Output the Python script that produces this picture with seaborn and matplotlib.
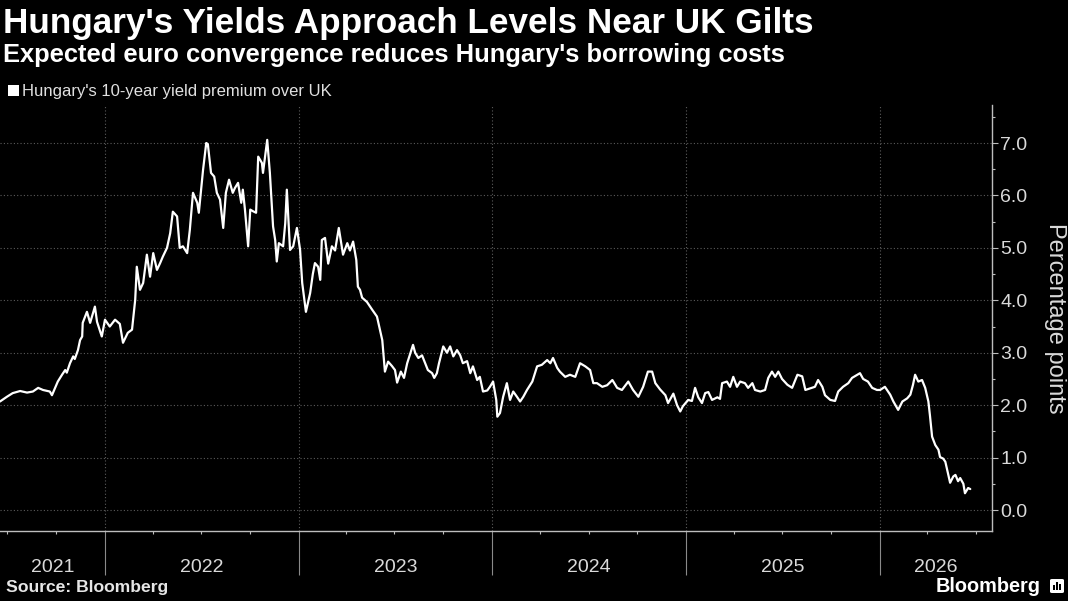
import matplotlib
matplotlib.use("Agg")
import matplotlib.pyplot as plt
import matplotlib.dates as mdates
from matplotlib.ticker import FixedLocator, MultipleLocator, FormatStrFormatter, NullFormatter
from matplotlib.patches import Rectangle, FancyBboxPatch
import matplotlib.transforms as mtransforms
import seaborn as sns
import pandas as pd

# ---------------- data ----------------
dates_2021 = ["2021-06-17", "2021-06-30", "2021-07-11", "2021-07-25", "2021-08-07", "2021-08-18",
              "2021-08-28", "2021-09-06", "2021-09-19", "2021-09-23", "2021-09-29", "2021-10-04",
              "2021-10-12", "2021-10-18", "2021-10-21", "2021-10-27", "2021-11-02", "2021-11-05",
              "2021-11-11", "2021-11-15", "2021-11-19", "2021-11-20", "2021-11-28", "2021-12-04",
              "2021-12-13", "2021-12-17", "2021-12-26"]
values_2021 = [2.07, 2.16, 2.23, 2.27, 2.24, 2.26, 2.33, 2.29, 2.26, 2.19, 2.33, 2.45,
               2.58, 2.67, 2.62, 2.80, 2.93, 2.88, 3.05, 3.24, 3.31, 3.57, 3.78, 3.57,
               3.88, 3.59, 3.31]

dates_2022 = ["2022-01-01", "2022-01-10", "2022-01-20", "2022-01-29", "2022-02-04", "2022-02-13",
              "2022-02-21", "2022-02-27", "2022-03-02", "2022-03-08", "2022-03-14", "2022-03-21",
              "2022-03-27", "2022-04-02", "2022-04-09", "2022-04-15", "2022-04-20", "2022-04-28",
              "2022-05-04", "2022-05-09", "2022-05-17", "2022-05-22", "2022-05-28", "2022-06-05",
              "2022-06-10", "2022-06-16", "2022-06-24", "2022-06-27", "2022-07-05", "2022-07-11",
              "2022-07-14", "2022-07-20", "2022-07-26", "2022-07-31", "2022-08-06", "2022-08-12",
              "2022-08-17", "2022-08-23", "2022-08-30", "2022-09-03", "2022-09-09", "2022-09-15",
              "2022-09-18", "2022-09-22", "2022-09-28", "2022-10-02", "2022-10-07", "2022-10-13",
              "2022-10-17", "2022-10-24", "2022-10-26", "2022-11-03", "2022-11-08", "2022-11-14",
              "2022-11-18", "2022-11-21", "2022-11-25", "2022-12-03", "2022-12-07", "2022-12-10",
              "2022-12-16", "2022-12-22", "2022-12-29"]
values_2022 = [3.63, 3.50, 3.63, 3.55, 3.19, 3.38, 3.44, 4.01, 4.64, 4.20, 4.33, 4.87,
               4.45, 4.90, 4.58, 4.71, 4.83, 5.00, 5.28, 5.69, 5.60, 5.00, 5.03, 4.90,
               5.34, 6.05, 5.86, 5.67, 6.49, 7.00, 6.98, 6.43, 6.36, 6.05, 5.92, 5.38,
               6.05, 6.30, 6.05, 6.14, 6.24, 5.86, 6.11, 5.73, 5.03, 5.73, 5.70, 5.67,
               6.74, 6.62, 6.43, 7.06, 6.43, 5.41, 5.15, 4.74, 5.09, 5.03, 5.47, 6.11,
               4.96, 5.03, 5.38]

dates_2023 = ["2023-01-04", "2023-01-08", "2023-01-15", "2023-01-23", "2023-01-28", "2023-02-01",
              "2023-02-07", "2023-02-11", "2023-02-14", "2023-02-20", "2023-02-26", "2023-03-05",
              "2023-03-11", "2023-03-18", "2023-03-26", "2023-04-03", "2023-04-08", "2023-04-14",
              "2023-04-20", "2023-04-23", "2023-04-27", "2023-05-01", "2023-05-10", "2023-05-20",
              "2023-05-29", "2023-06-08", "2023-06-13", "2023-06-19", "2023-06-26", "2023-07-02",
              "2023-07-06", "2023-07-13", "2023-07-19", "2023-07-25", "2023-07-30", "2023-08-05",
              "2023-08-09", "2023-08-15", "2023-08-22", "2023-08-28", "2023-09-02", "2023-09-10",
              "2023-09-14", "2023-09-19", "2023-09-23", "2023-10-01", "2023-10-08", "2023-10-14",
              "2023-10-20", "2023-10-27", "2023-11-02", "2023-11-07", "2023-11-15", "2023-11-21",
              "2023-11-26", "2023-12-04", "2023-12-09", "2023-12-15", "2023-12-23", "2023-12-28"]
values_2023 = [4.96, 4.33, 3.78, 4.14, 4.50, 4.71, 4.64, 4.39, 5.15, 5.19, 4.70, 5.03,
               4.95, 5.38, 4.87, 5.09, 4.95, 5.12, 4.77, 4.26, 4.20, 4.05, 3.97, 3.82,
               3.69, 3.24, 2.64, 2.83, 2.75, 2.67, 2.43, 2.64, 2.52, 2.80, 2.96, 3.15,
               3.00, 2.90, 2.95, 2.80, 2.67, 2.61, 2.52, 2.61, 2.80, 3.12, 3.00, 3.12,
               2.93, 3.05, 2.95, 2.80, 2.84, 2.61, 2.74, 2.48, 2.54, 2.26, 2.28, 2.35]

dates_2024 = ["2024-01-03", "2024-01-09", "2024-01-11", "2024-01-16", "2024-01-22", "2024-01-29",
              "2024-02-04", "2024-02-10", "2024-02-17", "2024-02-23", "2024-02-29", "2024-03-07",
              "2024-03-17", "2024-03-26", "2024-04-04", "2024-04-14", "2024-04-20", "2024-04-25",
              "2024-05-03", "2024-05-08", "2024-05-18", "2024-05-27", "2024-06-06", "2024-06-15",
              "2024-06-25", "2024-07-04", "2024-07-10", "2024-07-17", "2024-07-27", "2024-08-05",
              "2024-08-15", "2024-08-24", "2024-09-02", "2024-09-14", "2024-09-23", "2024-10-03",
              "2024-10-12", "2024-10-21", "2024-10-29", "2024-11-04", "2024-11-13", "2024-11-23",
              "2024-11-28", "2024-12-08", "2024-12-15", "2024-12-21", "2024-12-26"]
values_2024 = [2.45, 2.10, 1.78, 1.85, 2.16, 2.42, 2.10, 2.26, 2.16, 2.07, 2.16, 2.29,
               2.45, 2.74, 2.77, 2.86, 2.80, 2.90, 2.71, 2.64, 2.54, 2.58, 2.54, 2.80,
               2.74, 2.67, 2.42, 2.42, 2.35, 2.38, 2.48, 2.33, 2.29, 2.45, 2.29, 2.16,
               2.35, 2.64, 2.64, 2.42, 2.30, 2.19, 2.04, 2.22, 2.00, 1.88, 1.98]

dates_2025 = ["2025-01-05", "2025-01-12", "2025-01-18", "2025-01-24", "2025-01-31", "2025-02-06",
              "2025-02-12", "2025-02-19", "2025-03-01", "2025-03-06", "2025-03-10", "2025-03-19",
              "2025-03-25", "2025-03-31", "2025-04-07", "2025-04-13", "2025-04-22", "2025-04-28",
              "2025-05-06", "2025-05-11", "2025-05-21", "2025-05-30", "2025-06-05", "2025-06-12",
              "2025-06-18", "2025-06-24", "2025-07-01", "2025-07-11", "2025-07-20", "2025-07-30",
              "2025-08-08", "2025-08-14", "2025-08-23", "2025-09-01", "2025-09-07", "2025-09-15",
              "2025-09-20", "2025-09-30", "2025-10-09", "2025-10-15", "2025-10-24", "2025-11-03",
              "2025-11-10", "2025-11-20", "2025-11-25", "2025-12-01", "2025-12-10", "2025-12-18",
              "2025-12-27"]
values_2025 = [2.10, 2.08, 2.33, 2.15, 2.04, 2.23, 2.25, 2.10, 2.15, 2.12, 2.42, 2.45,
               2.35, 2.54, 2.35, 2.45, 2.42, 2.33, 2.42, 2.29, 2.26, 2.29, 2.52, 2.64,
               2.54, 2.64, 2.50, 2.39, 2.33, 2.58, 2.55, 2.29, 2.32, 2.35, 2.48, 2.35,
               2.19, 2.10, 2.08, 2.26, 2.35, 2.42, 2.52, 2.58, 2.61, 2.50, 2.45, 2.33,
               2.29]

dates_2026 = ["2026-01-02", "2026-01-11", "2026-01-21", "2026-01-27", "2026-02-05", "2026-02-13",
              "2026-02-22", "2026-02-28", "2026-03-05", "2026-03-09", "2026-03-15", "2026-03-22",
              "2026-03-28", "2026-04-03", "2026-04-06", "2026-04-10", "2026-04-16", "2026-04-22",
              "2026-04-25", "2026-05-01", "2026-05-05", "2026-05-10", "2026-05-14", "2026-05-20",
              "2026-05-24", "2026-05-29", "2026-06-02", "2026-06-08", "2026-06-11", "2026-06-17",
              "2026-06-21"]
values_2026 = [2.29, 2.35, 2.20, 2.07, 1.91, 2.07, 2.13, 2.20, 2.39, 2.58, 2.45, 2.48,
               2.33, 2.07, 1.80, 1.40, 1.24, 1.15, 1.01, 0.98, 0.92, 0.70, 0.52, 0.64,
               0.67, 0.55, 0.61, 0.50, 0.32, 0.42, 0.40]

series_label = "Hungary's 10-year yield premium over UK"
title_text = "Hungary's Yields Approach Levels Near UK Gilts"
subtitle_text = "Expected euro convergence reduces Hungary's borrowing costs"
source_text = "Source: Bloomberg"
brand_text = "Bloomberg"
y_label = "Percentage points"
y_ticks = [0, 1, 2, 3, 4, 5, 6, 7]
year_labels = ["2021", "2022", "2023", "2024", "2025", "2026"]
x_start, x_end = "2021-06-17", "2026-08-01"
y_min, y_max = -0.40, 7.725

# ---------------- style ----------------
W, H = 1068, 601
BG = "#000000"
GRID = "#5c5c5c"
AXIS = "#bdbdbd"
TXT = "#dadada"

sns.set_theme(style="dark", rc={"axes.facecolor": BG, "figure.facecolor": BG,
                                "savefig.facecolor": BG})
plt.rcParams["font.family"] = ["Liberation Sans", "DejaVu Sans"]

fig = plt.figure(figsize=(W / 100, H / 100), dpi=100)
ax = fig.add_axes([0, (H - 531) / H, 992 / W, 426 / H])
ax.set_facecolor(BG)

all_dates = dates_2021 + dates_2022 + dates_2023 + dates_2024 + dates_2025 + dates_2026
all_values = values_2021 + values_2022 + values_2023 + values_2024 + values_2025 + values_2026
df = pd.DataFrame({"date": pd.to_datetime(all_dates), "value": all_values})

sns.lineplot(data=df, x="date", y="value", ax=ax, color="white", linewidth=1.6,
             estimator=None, legend=False)

x0, x1 = pd.Timestamp(x_start), pd.Timestamp(x_end)
ax.set_xlim(x0, x1)
ax.set_ylim(y_min, y_max)
ax.set_xlabel("")
ax.set_ylabel("")

for s in ["left", "top"]:
    ax.spines[s].set_visible(False)
for s in ["right", "bottom"]:
    ax.spines[s].set_visible(True)
    ax.spines[s].set_color(AXIS)
    ax.spines[s].set_linewidth(1.0)

# x axis: year boundaries (long ticks below axis), quarter minor ticks
ax.xaxis.set_major_locator(mdates.YearLocator())
ax.xaxis.set_minor_locator(mdates.MonthLocator(bymonth=[4, 7, 10]))
ax.xaxis.set_major_formatter(NullFormatter())
ax.xaxis.set_minor_formatter(NullFormatter())
ax.tick_params(axis="x", which="major", bottom=True, length=31.5, width=0.8,
               color="#8a8a8a", direction="out")
ax.tick_params(axis="x", which="minor", bottom=True, length=2.5, width=0.8,
               color=AXIS, direction="out")

# y axis on the right
ax.yaxis.tick_right()
ax.yaxis.set_major_locator(FixedLocator(y_ticks))
ax.yaxis.set_minor_locator(MultipleLocator(0.5))
ax.yaxis.set_major_formatter(FormatStrFormatter("%.1f"))
ax.tick_params(axis="y", which="major", left=False, right=True, length=4.3, width=0.8,
               color=AXIS, labelcolor=TXT, labelsize=14, pad=1.5)
ax.tick_params(axis="y", which="minor", left=False, right=True, length=2.2, width=0.8,
               color=AXIS)

ax.grid(False)
ax.grid(which="major", axis="both", color=GRID, linestyle=(0, (1, 2)), linewidth=0.8)
ax.set_axisbelow(True)

# year labels centred in the visible part of each year
trans = mtransforms.blended_transform_factory(ax.transData, ax.transAxes)
for lab in year_labels:
    a = max(pd.Timestamp(f"{lab}-01-01"), x0)
    b = min(pd.Timestamp(f"{int(lab) + 1}-01-01"), x1)
    c = mdates.date2num(a) + (mdates.date2num(b) - mdates.date2num(a)) / 2
    ax.text(c, (531 - 572) / 426, lab, transform=trans, ha="center", va="baseline",
            fontsize=14, color=TXT, clip_on=False)

# titles
fig.text(3 / W, 1 - 33 / H, title_text, fontsize=25.3, fontweight="bold", color="white",
         ha="left", va="baseline")
fig.text(3 / W, 1 - 62 / H, subtitle_text, fontsize=18.4, fontweight="bold", color="white",
         ha="left", va="baseline")

# legend
fig.patches.append(Rectangle((8 / W, 1 - 96 / H), 11 / W, 11 / H, transform=fig.transFigure,
                             facecolor="white", edgecolor="none"))
fig.text(22 / W, 1 - 96 / H, series_label, fontsize=12, color="#e0e0e0", ha="left",
         va="baseline")

# y label
fig.text(1055 / W, 1 - 318 / H, y_label, rotation=270, ha="center", va="center",
         fontsize=17, color=TXT)

# footer
fig.text(6 / W, 1 - 592 / H, source_text, fontsize=12.6, fontweight="bold", color="#e6e6e6",
         ha="left", va="baseline")
fig.text(1041 / W, 1 - 592 / H, brand_text, fontsize=14.3, fontweight="bold", color="white",
         ha="right", va="baseline")
fig.patches.append(FancyBboxPatch((1050 / W, 1 - 593 / H), 14 / W, 14 / H,
                                  boxstyle="round,pad=0,rounding_size=0.002",
                                  transform=fig.transFigure, facecolor="white",
                                  edgecolor="none"))
for i, hgt in enumerate([5, 8, 6]):
    fig.patches.append(Rectangle(((1053 + i * 3.2) / W, 1 - 590 / H), 1.8 / W, hgt / H,
                                 transform=fig.transFigure, facecolor="black",
                                 edgecolor="none"))

fig.savefig("out.png", dpi=100, facecolor=BG)
